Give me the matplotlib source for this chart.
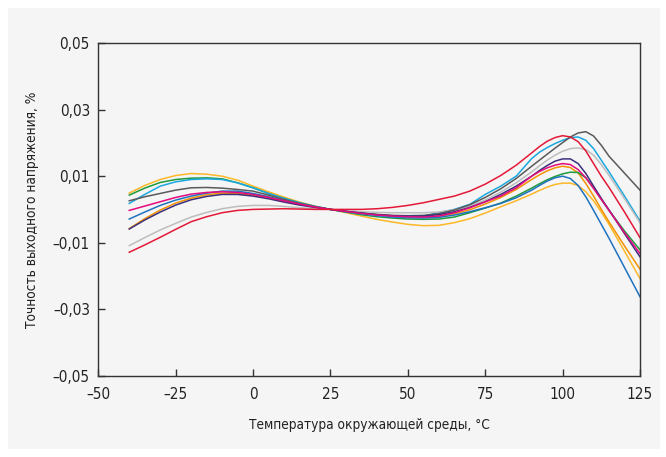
import matplotlib
matplotlib.use("Agg")
import matplotlib.pyplot as plt
from matplotlib import font_manager
from matplotlib.patches import Rectangle

# шрифт: узкий, если есть
cond = [f for f in font_manager.fontManager.ttflist
        if f.name == "DejaVu Sans" and str(f.stretch) in ("condensed", "semi-condensed", "600", "700")]
if cond:
    plt.rcParams["font.family"] = ["DejaVu Sans"]
    plt.rcParams["font.stretch"] = "condensed"
    fs_tick, fs_lab = 11, 9.8
else:
    plt.rcParams["font.family"] = ["Liberation Sans", "DejaVu Sans"]
    fs_tick, fs_lab = 11, 9.6

# температура, °C
temps = [-40, -35, -30, -25, -20, -15, -10, -5, 0, 5, 10, 15, 20, 25, 30, 35, 40, 45, 50,
         55, 60, 65, 70, 75, 80, 85, 90, 92.5, 95, 97.5, 100, 102.5, 105, 107.5, 110,
         112.5, 115, 120, 125]

# точность, %
yellow = [0.0049, 0.0072, 0.0090, 0.0102, 0.0108, 0.0106, 0.0100, 0.0088, 0.0070, 0.0053,
          0.0037, 0.0022, 0.0010, 0.0000, -0.0010, -0.0020, -0.0030, -0.0038, -0.0045,
          -0.0049, -0.0048, -0.0040, -0.0028, -0.0011, 0.0008, 0.0026, 0.0046, 0.0057,
          0.0067, 0.0075, 0.0079, 0.0079, 0.0072, 0.0053, 0.0026, -0.0008, -0.0045,
          -0.0126, -0.0208]
orange = [-0.0058, -0.0028, -0.0002, 0.0019, 0.0034, 0.0044, 0.0049, 0.0048, 0.0043, 0.0034,
          0.0024, 0.0015, 0.0007, 0.0000, -0.0006, -0.0011, -0.0016, -0.0019, -0.0021,
          -0.0022, -0.0020, -0.0013, -0.0001, 0.0016, 0.0036, 0.0060, 0.0090, 0.0104,
          0.0116, 0.0125, 0.0130, 0.0126, 0.0110, 0.0078, 0.0040, 0.0000, -0.0038,
          -0.0110, -0.0180]
green = [0.0043, 0.0064, 0.0081, 0.0090, 0.0094, 0.0095, 0.0092, 0.0080, 0.0065, 0.0048,
         0.0033, 0.0020, 0.0009, 0.0000, -0.0008, -0.0016, -0.0022, -0.0026, -0.0029,
         -0.0030, -0.0029, -0.0023, -0.0010, 0.0004, 0.0019, 0.0040, 0.0064, 0.0077,
         0.0089, 0.0099, 0.0107, 0.0112, 0.0111, 0.0095, 0.0065, 0.0030, -0.0003,
         -0.0065, -0.0122]
blue = [-0.0029, -0.0008, 0.0012, 0.0028, 0.0040, 0.0049, 0.0055, 0.0055, 0.0048, 0.0038,
        0.0027, 0.0017, 0.0008, 0.0000, -0.0007, -0.0013, -0.0019, -0.0023, -0.0025,
        -0.0026, -0.0024, -0.0017, -0.0007, 0.0005, 0.0018, 0.0035, 0.0058, 0.0072,
        0.0085, 0.0095, 0.0100, 0.0093, 0.0072, 0.0038, -0.0003, -0.0045, -0.0087,
        -0.0175, -0.0263]
cyan = [0.0018, 0.0045, 0.0070, 0.0083, 0.0090, 0.0092, 0.0090, 0.0080, 0.0065, 0.0048,
        0.0033, 0.0020, 0.0009, 0.0000, -0.0007, -0.0013, -0.0018, -0.0021, -0.0022,
        -0.0020, -0.0010, 0.0000, 0.0015, 0.0045, 0.0070, 0.0100, 0.0153, 0.0172,
        0.0186, 0.0198, 0.0208, 0.0216, 0.0218, 0.0208, 0.0183, 0.0148, 0.0113,
        0.0040, -0.0035]
lightgrey = [-0.0109, -0.0085, -0.0062, -0.0042, -0.0023, -0.0009, 0.0002, 0.0009, 0.0012,
             0.0012, 0.0009, 0.0005, 0.0002, 0.0000, -0.0004, -0.0007, -0.0009, -0.0010,
             -0.0010, -0.0010, -0.0008, -0.0001, 0.0010, 0.0028, 0.0052, 0.0080, 0.0113,
             0.0131, 0.0148, 0.0163, 0.0175, 0.0183, 0.0185, 0.0180, 0.0163, 0.0135,
             0.0102, 0.0032, -0.0040]
darkgrey = [0.0026, 0.0038, 0.0048, 0.0058, 0.0065, 0.0066, 0.0064, 0.0060, 0.0055, 0.0043,
            0.0030, 0.0018, 0.0008, 0.0000, -0.0006, -0.0011, -0.0015, -0.0018, -0.0019,
            -0.0018, -0.0013, -0.0002, 0.0014, 0.0036, 0.0062, 0.0093, 0.0130, 0.0148,
            0.0166, 0.0184, 0.0201, 0.0218, 0.0230, 0.0234, 0.0221, 0.0193, 0.0160,
            0.0109, 0.0058]
purple = [-0.0059, -0.0032, -0.0008, 0.0013, 0.0029, 0.0039, 0.0045, 0.0045, 0.0040, 0.0032,
          0.0022, 0.0013, 0.0006, 0.0000, -0.0006, -0.0011, -0.0016, -0.0019, -0.0020,
          -0.0020, -0.0016, -0.0007, 0.0006, 0.0023, 0.0045, 0.0070, 0.0100, 0.0117,
          0.0132, 0.0145, 0.0152, 0.0152, 0.0138, 0.0108, 0.0070, 0.0033, -0.0002,
          -0.0073, -0.0143]
magenta = [-0.0003, 0.0010, 0.0023, 0.0036, 0.0046, 0.0051, 0.0053, 0.0051, 0.0045, 0.0036,
           0.0026, 0.0016, 0.0007, 0.0000, -0.0006, -0.0012, -0.0017, -0.0020, -0.0022,
           -0.0023, -0.0020, -0.0010, 0.0005, 0.0023, 0.0040, 0.0065, 0.0100, 0.0114,
           0.0125, 0.0133, 0.0138, 0.0135, 0.0120, 0.0095, 0.0063, 0.0030, -0.0003,
           -0.0070, -0.0133]
red = [-0.0129, -0.0107, -0.0084, -0.0060, -0.0037, -0.0022, -0.0010, -0.0003, 0.0000, 0.0001,
       0.0002, 0.0001, 0.0000, 0.0000, 0.0000, 0.0000, 0.0002, 0.0006, 0.0012, 0.0020,
       0.0030, 0.0040, 0.0055, 0.0076, 0.0102, 0.0133, 0.0170, 0.0189, 0.0205, 0.0216,
       0.0222, 0.0218, 0.0204, 0.0176, 0.0138, 0.0100, 0.0066, -0.0008, -0.0085]

series = [yellow, orange, green, blue, cyan, lightgrey, darkgrey, purple, magenta, red]
colors = ["#fdb827", "#f39200", "#1f9a3c", "#1f72c0", "#1ba7e0", "#bdbdbd", "#5a5a5a",
          "#3c2f7d", "#e5097f", "#e31937"]

yticks = [-0.05, -0.03, -0.01, 0.01, 0.03, 0.05]
ytick_labels = ["\u20130,05", "\u20130,03", "\u20130,01", "0,01", "0,03", "0,05"]
xticks = [-50, -25, 0, 25, 50, 75, 100, 125]
xtick_labels = ["\u201350", "\u201325", "0", "25", "50", "75", "100", "125"]

bg = "#f5f5f5"
fig = plt.figure(figsize=(6.66, 4.57), dpi=100, facecolor="white")
fig.add_artist(Rectangle((8 / 666, 8 / 457), 652 / 666, 441 / 457,
                         transform=fig.transFigure, facecolor=bg, edgecolor="none", zorder=-10))
ax = fig.add_axes([98.3 / 666, 1 - 375.5 / 457, (640 - 98.3) / 666, (375.5 - 43.3) / 457])
ax.set_facecolor(bg)
ax.set_zorder(1)

for vals, c in zip(series, colors):
    ax.plot(temps, vals, color=c, lw=1.1, solid_joinstyle="round")

ax.set_xlim(-50, 125)
ax.set_ylim(-0.05, 0.05)
ax.set_xticks(xticks)
ax.set_xticklabels(xtick_labels)
ax.set_yticks(yticks)
ax.set_yticklabels(ytick_labels)
ax.tick_params(direction="in", length=5, width=1, color="#333333", labelsize=fs_tick,
               labelcolor="#222222")
ax.tick_params(axis="x", pad=8)
ax.tick_params(axis="y", pad=6)
for s in ax.spines.values():
    s.set_color("#333333")
    s.set_linewidth(1)

ax.set_xlabel("Температура окружающей среды, °С", fontsize=fs_lab, color="#222222", labelpad=12)
ax.set_ylabel("Точность выходного напряжения, %", fontsize=fs_lab, color="#222222", labelpad=10)

fig.savefig("out.png", dpi=100, facecolor="white")
